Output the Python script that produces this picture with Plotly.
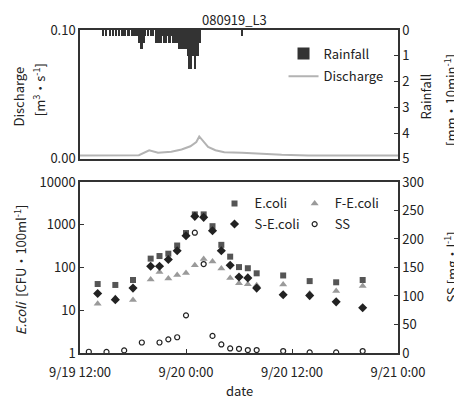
import pandas as pd
import plotly.graph_objects as go

FONT = "Noto Sans CJK JP"

# ---------------- data ----------------
sample_time = [
    "2008-09-19 14:00", "2008-09-19 16:00", "2008-09-19 18:00", "2008-09-19 20:00",
    "2008-09-19 21:00", "2008-09-19 22:00", "2008-09-19 23:00", "2008-09-20 00:00",
    "2008-09-20 01:00", "2008-09-20 02:00", "2008-09-20 03:00", "2008-09-20 04:00",
    "2008-09-20 05:00", "2008-09-20 06:00", "2008-09-20 07:00", "2008-09-20 08:00",
    "2008-09-20 11:00", "2008-09-20 14:00", "2008-09-20 17:00", "2008-09-20 20:00",
]
ss_time = [
    "2008-09-19 13:00", "2008-09-19 15:00", "2008-09-19 17:00", "2008-09-19 19:00",
    "2008-09-19 21:00", "2008-09-19 22:00", "2008-09-19 23:00", "2008-09-20 00:00",
    "2008-09-20 01:00", "2008-09-20 02:00", "2008-09-20 03:00", "2008-09-20 04:00",
    "2008-09-20 05:00", "2008-09-20 06:00", "2008-09-20 07:00", "2008-09-20 08:00",
    "2008-09-20 11:00", "2008-09-20 14:00", "2008-09-20 17:00", "2008-09-20 20:00",
]
ecoli = [41, 39, 51, 161, 185, 210, 326, 638, 1743, 1743, 924, 338,
         179, 102, 96, 73, 65, 48, 45, 51]
f_ecoli = [14.1, 19.4, 17.4, 52, 78, 55, 66.5, 74, 113, 158, 137, 95,
           57, 43, 40.7, 38.6, 39.8, 24.7, 28, 37]
s_ecoli = [24.7, 17.7, 32.9, 107, 107, 153, 246, 553, 1568, 1487, 721, 246,
           113, 60, 57, 32.9, 23, 22, 15.7, 11.4]
ss = [2.2, 2.0, 4.6, 18.4, 18.4, 24, 27.6, 66, 211, 156, 30, 15,
      8.0, 7.4, 5.2, 5.2, 3.4, 1.2, 1.2, 3.4]

discharge_time = [
    "2008-09-19 12:00", "2008-09-19 15:00", "2008-09-19 18:40", "2008-09-19 19:50",
    "2008-09-19 20:50", "2008-09-19 22:20", "2008-09-19 23:30", "2008-09-20 00:30",
    "2008-09-20 01:10", "2008-09-20 01:30", "2008-09-20 02:00", "2008-09-20 02:30",
    "2008-09-20 03:20", "2008-09-20 04:20", "2008-09-20 06:20", "2008-09-20 08:40",
    "2008-09-20 10:50", "2008-09-20 13:50", "2008-09-21 00:00",
]
discharge = [0.0027, 0.0027, 0.0028, 0.0067, 0.0047, 0.0055, 0.0073, 0.0098,
             0.0131, 0.0174, 0.0131, 0.0093, 0.0067, 0.0052, 0.0047, 0.0037,
             0.0032, 0.0027, 0.0027]

# 10-minute rainfall starting 2008-09-19 14:20
rain_start = "2008-09-19 14:20"
rainfall = [
    0, 0.25, 0, 0.25, 0, 0, 0.25, 0, 0.25, 0, 0.25, 0,
    0.25, 0, 0.25, 0.25, 0.25, 0, 0.25, 0.25, 0, 0.25, 0.25, 0.25,
    0.25, 0.25, 0.5, 0.75, 0.75, 0.5, 0.25, 0, 0.25, 0, 0.25, 0.25,
    0, 0.5, 0.5, 0.5, 0.25, 0.5, 0.25, 0.5, 0.5, 0.25, 0.5, 0.5,
    0.25, 0.5, 0.5, 0.5, 0.5, 0.75, 0.75, 0.75, 0.75, 0.75, 0.75, 1.0,
    1.5, 1.5, 1.0, 1.0, 1.5, 1.0, 1.0, 0.5,
    0, 0, 0, 0, 0, 0, 0, 0, 0, 0, 0, 0, 0, 0, 0, 0,
    0, 0, 0, 0, 0, 0, 0, 0, 0, 0, 0, 0, 0.25,
]
rain_time = pd.date_range(rain_start, periods=len(rainfall), freq="10min") + pd.Timedelta(minutes=5)

x_tickvals = ["2008-09-19 12:00", "2008-09-20 00:00", "2008-09-20 12:00", "2008-09-21 00:00"]
x_ticktext = ["9/19 12:00", "9/20 0:00", "9/20 12:00", "9/21 0:00"]
x_range = ["2008-09-19 12:00", "2008-09-21 00:00"]

# ---------------- figure ----------------
fig = go.Figure()

fig.add_trace(go.Bar(
    x=rain_time, y=rainfall, name="Rainfall", xaxis="x", yaxis="y2",
    width=600000, marker=dict(color="#333333", line=dict(width=0)),
    legend="legend",
))
fig.add_trace(go.Scatter(
    x=discharge_time, y=discharge, name="Discharge", mode="lines",
    xaxis="x", yaxis="y", line=dict(color="#b3b3b3", width=2),
    legend="legend2",
))

fig.add_trace(go.Scatter(
    x=sample_time, y=ecoli, name="E.coli", mode="markers", xaxis="x2", yaxis="y3",
    marker=dict(symbol="square", size=6, color="#555555"), legend="legend3",
))
fig.add_trace(go.Scatter(
    x=sample_time, y=f_ecoli, name="F-E.coli", mode="markers", xaxis="x2", yaxis="y3",
    marker=dict(symbol="triangle-up", size=7, color="#9a9a9a"), legend="legend4",
))
fig.add_trace(go.Scatter(
    x=sample_time, y=s_ecoli, name="S-E.coli", mode="markers", xaxis="x2", yaxis="y3",
    marker=dict(symbol="diamond", size=7, color="#222222"), legend="legend5",
))
fig.add_trace(go.Scatter(
    x=ss_time, y=ss, name="SS", mode="markers", xaxis="x2", yaxis="y4",
    marker=dict(symbol="circle-open", size=5, color="#222222", line=dict(width=1.2)),
    legend="legend6",
))

TICKFONT = dict(size=13, color="#222222", family=FONT)
base = dict(showline=True, linecolor="#333333", linewidth=1.5, ticklen=4,
            tickcolor="#333333", showgrid=False, zeroline=False, tickfont=TICKFONT)


def leg(x, y):
    return dict(x=x, y=y, xanchor="left", yanchor="middle", bgcolor="rgba(0,0,0,0)",
                font=dict(size=13), itemwidth=30)


# the page body has an 8px default margin, so the figure is drawn 8px smaller
fig.update_layout(
    width=454, height=391,
    margin=dict(l=72, r=64, t=16, b=45.5),
    paper_bgcolor="white", plot_bgcolor="white",
    font=dict(family=FONT, size=13, color="#222222"),
    bargap=0,
    xaxis=dict(domain=[0, 1], anchor="y", type="date", range=x_range,
               tickvals=x_tickvals, showticklabels=False, mirror=True, ticks="", **base),
    yaxis=dict(domain=[0.601, 1.0], anchor="x", range=[0, 0.1],
               tickvals=[0, 0.1], ticktext=["0.00", "0.10"], ticks="", **base),
    yaxis2=dict(overlaying="y", side="right", anchor="x", range=[5, 0],
                tickvals=[0, 1, 2, 3, 4, 5], ticks="inside", **base),
    xaxis2=dict(domain=[0, 1], anchor="y3", type="date", range=x_range,
                tickvals=x_tickvals, ticktext=x_ticktext, mirror=True, ticks="inside",
                ticklabelstandoff=7, **base),
    yaxis3=dict(domain=[0, 0.5296], anchor="x2", type="log", range=[0, 4],
                tickvals=[1, 10, 100, 1000, 10000],
                ticktext=["1", "10", "100", "1000", "10000"], ticks="inside", **base),
    yaxis4=dict(overlaying="y3", side="right", anchor="x2", range=[0, 300],
                tickvals=[0, 50, 100, 150, 200, 250, 300], ticks="inside", **base),
    legend=leg(0.64, 0.927),
    legend2=leg(0.64, 0.857),
    legend3=leg(0.423, 0.463),
    legend4=leg(0.675, 0.463),
    legend5=leg(0.423, 0.399),
    legend6=leg(0.675, 0.399),
    showlegend=True,
)

ann = dict(xref="paper", yref="paper", showarrow=False, textangle=-90,
           xanchor="center", yanchor="middle", font=dict(size=13, color="#222222", family=FONT))
fig.add_annotation(text="080919_L3", x=0.487, y=1.033, xanchor="center", yanchor="middle",
                   xref="paper", yref="paper", showarrow=False,
                   font=dict(size=13, color="#222222", family=FONT))
fig.add_annotation(text="Discharge", x=-0.192, y=0.794, **ann)
fig.add_annotation(text="[m<sup>3</sup>・s<sup>-1</sup>]", x=-0.1305, y=0.815, **ann)
fig.add_annotation(text="Rainfall", x=1.088, y=0.794, **ann)
fig.add_annotation(text="[mm・10min<sup>-1</sup>]", x=1.165, y=0.785, **ann)
fig.add_annotation(text="<i>E.coli</i>  [CFU・100ml<sup>-1</sup>]", x=-0.189, y=0.259, **ann)
fig.add_annotation(text="SS [mg・l<sup>-1</sup>]", x=1.165, y=0.266, **ann)
fig.add_annotation(text="date", x=0.5, y=-0.117, xanchor="center", yanchor="middle",
                   xref="paper", yref="paper", showarrow=False,
                   font=dict(size=13, color="#222222", family=FONT))

fig.write_html("out.html")
